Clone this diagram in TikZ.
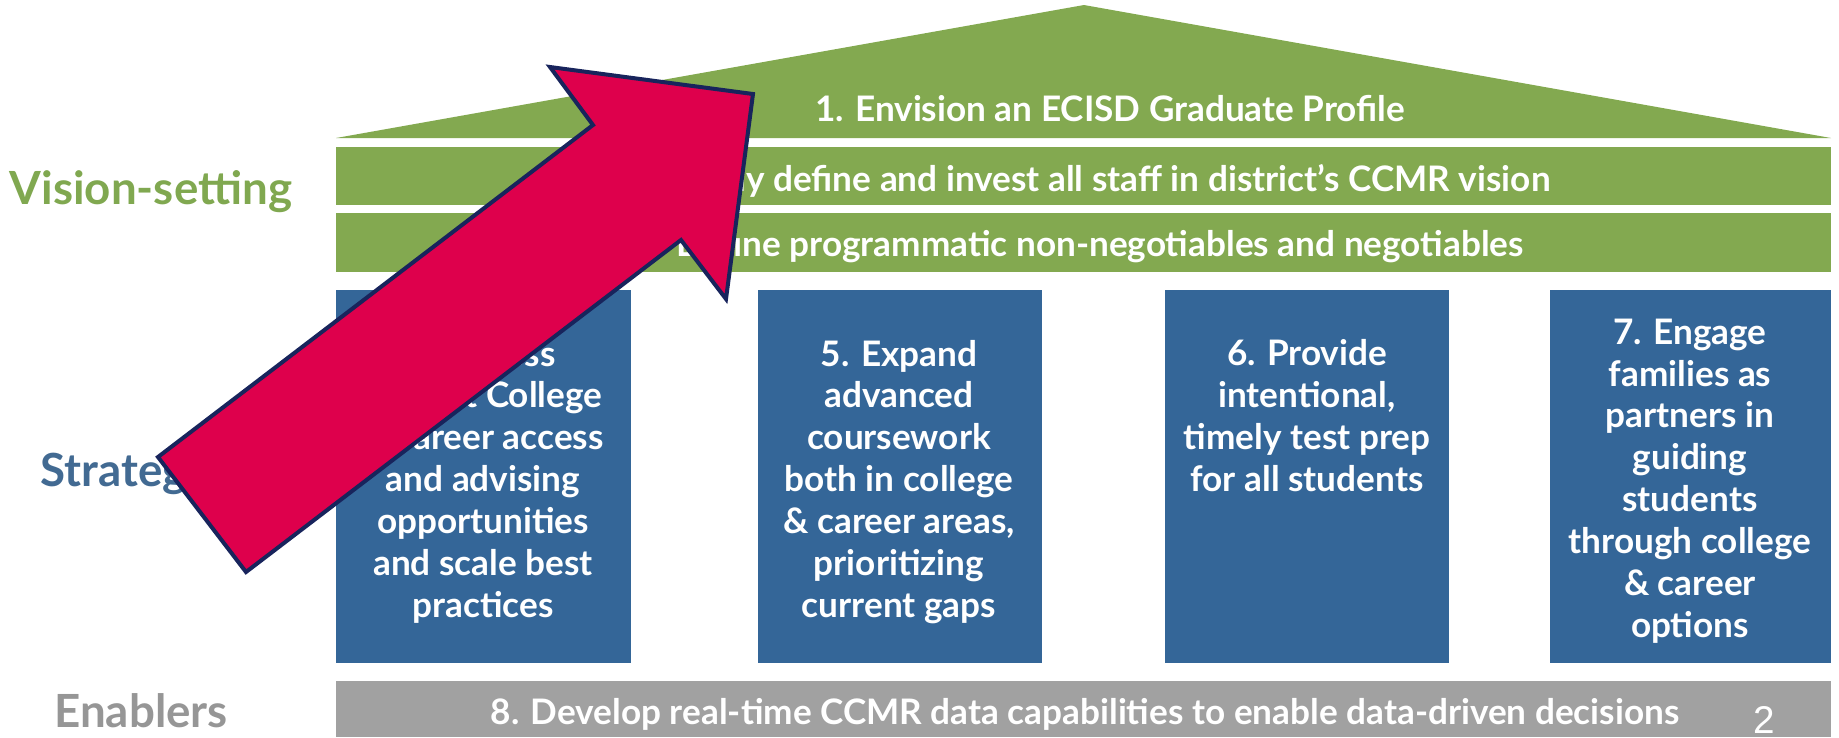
\documentclass[tikz,border=0pt]{standalone}
\usepackage{fontspec}
\setmainfont{Lato}
\newfontfamily\cifra{Liberation Sans}
\definecolor{verde}{RGB}{131,169,80}
\definecolor{blu}{RGB}{52,102,152}
\definecolor{grigio}{RGB}{161,161,161}
\definecolor{rosso}{RGB}{222,0,76}
\definecolor{bordo}{RGB}{24,36,92}
\definecolor{labverde}{RGB}{128,168,80}
\definecolor{labblu}{RGB}{66,106,146}
\definecolor{labgrigio}{RGB}{150,150,150}
\tikzset{
    testo/.style={text=white, font=\bfseries\fontsize{10}{11.9}\selectfont, inner sep=0pt, anchor=base},
    colonna/.style={testo, align=center},
    etichetta/.style={font=\bfseries\fontsize{13}{15}\selectfont, inner sep=0pt, anchor=base},
}
\begin{document}
\begin{tikzpicture}[x=0.1mm, y=-0.1mm]
        \useasboundingbox (0,0) rectangle (1839,737);

        % tetto
        \fill[verde] (336,138) -- (1084,5) -- (1831,138) -- cycle;
        \node[testo] (tetto) at (1110,121) {1. Envision an ECISD Graduate Profile};

        % fasce
        \fill[verde] (336,147) rectangle (1831,205);
        \node[testo] (fascia2) at (1083,191) {2. Clearly define and invest all staff in district’s CCMR vision};
        \fill[verde] (336,213) rectangle (1831,272);
        \node[testo] (fascia3) at (1080,256) {3. Define programmatic non-negotiables and negotiables};

        % colonne (base = ultima riga)
        \fill[blu] (336,290) rectangle (631,663);
        \node[colonna] (col4) at (483,617) {4. Assess\\current College\\\& career access\\and advising\\opportunities\\and scale best\\practices};
        \fill[blu] (758,290) rectangle (1042,663);
        \node[colonna] (col5) at (899,617) {5. Expand\\advanced\\coursework\\both in college\\\& career areas,\\prioritizing\\current gaps};
        \fill[blu] (1165,290) rectangle (1449,663);
        \node[colonna] (col6) at (1307,491) {6. Provide\\intentional,\\timely test prep\\for all students};
        \fill[blu] (1550,290) rectangle (1831,663);
        \node[colonna] (col7) at (1690,637) {7. Engage\\families as\\partners in\\guiding\\students\\through college\\\& career\\options};

        % base
        \fill[grigio] (336,681) rectangle (1831,737);
        \node[testo] (fascia8) at (1085,724) {8. Develop real-time CCMR data capabilities to enable data-driven decisions};
        \node[text=white, font=\cifra\fontsize{11}{13}\selectfont, inner sep=0pt, anchor=base] (pagina) at (1764,733) {2};

        % etichette
        \node[etichetta, text=labverde] (visione) at (151,204) {Vision-setting};
        \node[etichetta, text=labblu, anchor=base west] (strategie) at (40,486) {Strategies};
        \node[etichetta, text=labgrigio] (abilitatori) at (141,727) {Enablers};

        % freccia
        \draw[bordo, fill=rosso, line width=0.4mm, line join=miter] (158,457) -- (593,125) -- (550,67) -- (753,94) -- (726,299) -- (681,240) -- (246,572) -- cycle;
\end{tikzpicture}
\end{document}
